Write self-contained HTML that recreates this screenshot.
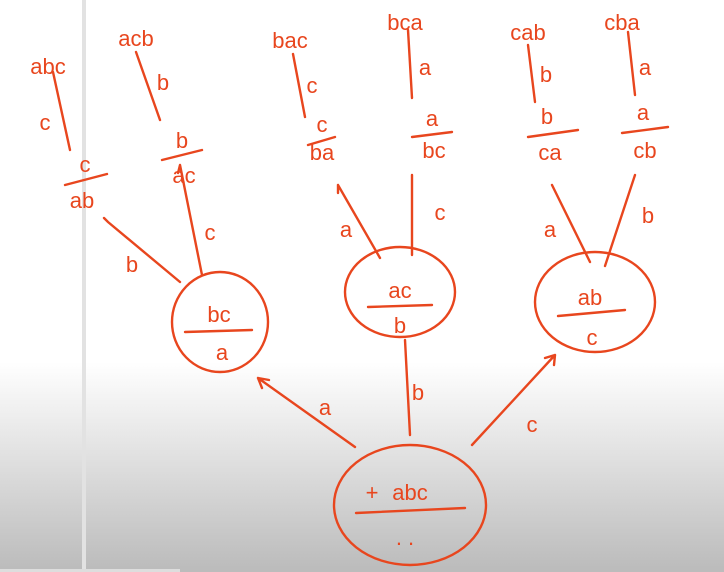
<!DOCTYPE html>
<html><head><style>
html,body{margin:0;padding:0;width:724px;height:572px;overflow:hidden}
body{background:linear-gradient(to bottom,#fff 0,#fff 362px,#e6e6e6 440px,#bcbcbc 568px);position:relative}
.vl{position:absolute;left:82px;top:0;width:4px;height:572px;background:#e2e2e2}
.bs{position:absolute;left:0;top:569px;width:180px;height:3px;background:#ddd}
svg{position:absolute;left:0;top:0}
text{font-family:"Liberation Sans",sans-serif;fill:#e8461e;font-size:22px;text-anchor:middle}
</style></head><body>
<div class="vl"></div><div class="bs"></div>
<svg width="724" height="572" viewBox="0 0 724 572" fill="none" stroke="#e8461e" stroke-width="2.4" stroke-linecap="round">
<ellipse cx="410" cy="505" rx="76" ry="60"/>
<ellipse cx="220" cy="322" rx="48" ry="50"/>
<ellipse cx="400" cy="292" rx="55" ry="45"/>
<ellipse cx="595" cy="302" rx="60" ry="50"/>
<line x1="356" y1="513" x2="465" y2="508"/>
<line x1="185" y1="332" x2="252" y2="330"/>
<line x1="368" y1="307" x2="432" y2="305"/>
<line x1="558" y1="316" x2="625" y2="310"/>
<line x1="65" y1="185" x2="107" y2="174"/>
<line x1="162" y1="160" x2="202" y2="150"/>
<line x1="308" y1="145" x2="335" y2="137"/>
<line x1="412" y1="137" x2="452" y2="132"/>
<line x1="528" y1="137" x2="578" y2="130"/>
<line x1="622" y1="133" x2="668" y2="127"/>
<path d="M355 447 L258 378 M258 378 l4 10 M258 378 l11 2"/>
<path d="M410 435 L405 340"/>
<path d="M472 445 L555 355 M555 355 l-10 3 M555 355 l-1 10"/>
<path d="M202 275 L180 165 M180 165 l-2 8"/>
<path d="M180 282 L108 222 l-4 -4"/>
<path d="M380 258 L338 185 M338 185 l0 8"/>
<path d="M412 255 L412 175"/>
<path d="M590 262 L552 185"/>
<path d="M605 266 L635 175"/>
<line x1="53" y1="72" x2="70" y2="150"/>
<line x1="136" y1="52" x2="160" y2="120"/>
<line x1="293" y1="54" x2="305" y2="117"/>
<line x1="408" y1="30" x2="412" y2="98"/>
<line x1="528" y1="45" x2="535" y2="102"/>
<line x1="628" y1="32" x2="635" y2="95"/>
</svg>
<svg width="724" height="572" viewBox="0 0 724 572">
<text x="410" y="500" font-size="30">abc</text>
<text x="372" y="500" font-size="18">+</text>
<text x="405" y="545">. .</text>
<text x="219" y="322" font-size="26">bc</text>
<text x="222" y="360" font-size="24">a</text>
<text x="400" y="298" font-size="26">ac</text>
<text x="400" y="333" font-size="24">b</text>
<text x="590" y="305" font-size="26">ab</text>
<text x="592" y="345" font-size="24">c</text>
<text x="325" y="415">a</text>
<text x="418" y="400">b</text>
<text x="532" y="432">c</text>
<text x="210" y="240">c</text>
<text x="132" y="272">b</text>
<text x="346" y="237">a</text>
<text x="440" y="220">c</text>
<text x="550" y="237">a</text>
<text x="648" y="223">b</text>
<text x="85" y="172" font-size="26">c</text>
<text x="82" y="208" font-size="24">ab</text>
<text x="182" y="148" font-size="24">b</text>
<text x="184" y="183" font-size="24">ac</text>
<text x="322" y="132" font-size="20">c</text>
<text x="322" y="160" font-size="22">ba</text>
<text x="432" y="126" font-size="22">a</text>
<text x="434" y="158" font-size="22">bc</text>
<text x="547" y="124" font-size="22">b</text>
<text x="550" y="160" font-size="22">ca</text>
<text x="643" y="120" font-size="22">a</text>
<text x="645" y="158" font-size="22">cb</text>
<text x="48" y="74">abc</text>
<text x="45" y="130">c</text>
<text x="136" y="46">acb</text>
<text x="163" y="90">b</text>
<text x="290" y="48">bac</text>
<text x="312" y="93">c</text>
<text x="405" y="30">bca</text>
<text x="425" y="75">a</text>
<text x="528" y="40">cab</text>
<text x="546" y="82">b</text>
<text x="622" y="30">cba</text>
<text x="645" y="75">a</text>
</svg>
</body></html>
